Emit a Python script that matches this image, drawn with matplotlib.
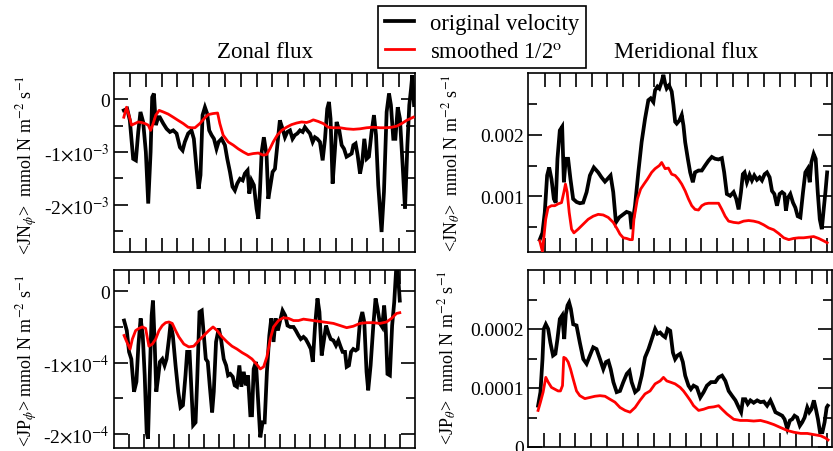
import numpy as np
import matplotlib
matplotlib.use("Agg")
import matplotlib.pyplot as plt
from matplotlib.lines import Line2D

plt.rcParams['font.family'] = ['Liberation Serif', 'DejaVu Serif']
plt.rcParams['mathtext.fontset'] = 'stix'

# ---------------- data ----------------
# Zonal flux, <JN_phi>  (units of 1e-3)
zn_orig_x = [0.62, 0.83, 1.00, 1.21, 1.38, 1.53, 1.67, 1.84, 2.01, 2.16, 2.31, 2.41, 2.52, 2.64, 2.79, 2.89,
             3.11, 3.32, 3.53, 3.74, 3.95, 4.16, 4.33, 4.47, 4.68, 4.89, 5.04, 5.21, 5.34, 5.46, 5.59, 5.74,
             5.88, 6.01, 6.16, 6.31, 6.47, 6.60, 6.79, 7.00, 7.15, 7.32, 7.48, 7.63, 7.78, 7.95, 8.12, 8.26,
             8.43, 8.54, 8.68, 8.83, 9.00, 9.11, 9.21, 9.32, 9.46, 9.63, 9.74, 9.88, 10.01, 10.16, 10.31,
             10.47, 10.64, 10.79, 10.94, 11.11, 11.27, 11.42, 11.57, 11.74, 11.91, 12.05, 12.20, 12.37,
             12.54, 12.68, 12.83, 13.00, 13.17, 13.32, 13.46, 13.57, 13.67, 13.80, 13.95, 14.05, 14.22,
             14.37, 14.52, 14.68, 14.85, 15.00, 15.11, 15.25, 15.38, 15.53, 15.67, 15.80, 15.95, 16.09,
             16.26, 16.41, 16.54, 16.68, 16.89, 17.04, 17.21, 17.36, 17.48, 17.63, 17.76, 17.91, 18.05,
             18.22, 18.37, 18.52, 18.64, 18.75, 18.83, 18.94]
zn_orig_y = [-0.21, -0.18, -0.40, -1.13, -1.16, -0.62, -0.24, -0.43, -1.00, -1.98, -1.00, 0.04, 0.11, -0.49,
             -0.34, -0.34, -0.46, -0.56, -0.62, -0.59, -0.65, -0.91, -0.97, -0.81, -0.65, -0.59, -0.75,
             -1.32, -1.70, -1.44, -0.30, -0.15, -0.27, -0.59, -0.68, -0.75, -0.94, -0.81, -0.75, -0.87,
             -1.13, -1.38, -1.66, -1.73, -1.60, -1.51, -1.54, -1.41, -1.35, -1.79, -1.54, -1.63, -2.08,
             -2.27, -1.76, -1.00, -0.72, -1.06, -1.89, -1.63, -1.38, -1.32, -0.87, -0.40, -0.56, -0.72,
             -0.62, -0.59, -0.75, -0.68, -0.65, -0.59, -0.62, -0.53, -0.59, -0.65, -0.81, -0.72, -0.75,
             -0.81, -1.16, -0.75, -0.18, -0.05, -0.37, -1.60, -0.94, -0.43, -0.59, -0.87, -0.94, -1.09,
             -1.06, -1.03, -0.87, -0.84, -1.06, -1.41, -1.19, -0.75, -1.13, -1.09, -0.62, -0.30, -0.68,
             -1.63, -2.52, -1.76, -0.24, 0.11, -0.11, -0.75, -0.75, -0.15, -0.37, -1.25, -2.08, -0.87,
             -0.11, 0.20, 0.46, -0.11]
zn_smooth_x = [0.62, 0.79, 0.94, 1.11, 1.32, 1.53, 1.74, 1.95, 2.16, 2.31, 2.47, 2.64, 2.85, 3.11, 3.42,
               3.74, 4.05, 4.37, 4.68, 4.89, 5.11, 5.42, 5.74, 5.95, 6.26, 6.54, 6.68, 6.89, 7.21, 7.53,
               7.84, 8.16, 8.47, 8.79, 9.11, 9.42, 9.63, 9.84, 10.05, 10.31, 10.58, 10.89, 11.21, 11.53,
               11.84, 12.16, 12.37, 12.58, 12.89, 13.21, 13.53, 13.84, 14.26, 14.68, 15.11, 15.53, 15.95,
               16.37, 16.79, 17.21, 17.53, 17.84, 18.16, 18.47, 18.89]
zn_smooth_y = [-0.34, -0.15, -0.30, -0.49, -0.46, -0.43, -0.44, -0.46, -0.49, -0.59, -0.46, -0.30, -0.21,
               -0.24, -0.28, -0.34, -0.40, -0.46, -0.53, -0.54, -0.54, -0.46, -0.35, -0.29, -0.27, -0.26,
               -0.46, -0.68, -0.81, -0.87, -0.94, -1.00, -1.05, -1.03, -1.02, -1.06, -1.05, -0.94, -0.81,
               -0.68, -0.59, -0.53, -0.48, -0.45, -0.43, -0.44, -0.42, -0.39, -0.42, -0.46, -0.53, -0.54,
               -0.54, -0.56, -0.57, -0.56, -0.54, -0.53, -0.54, -0.54, -0.53, -0.51, -0.46, -0.40, -0.34]

# Zonal flux, <JP_phi>  (units of 1e-4)
zp_orig_x = [0.67, 0.85, 1.00, 1.15, 1.33, 1.49, 1.62, 1.77, 1.91, 2.04, 2.17, 2.26, 2.39, 2.50, 2.59, 2.70,
             2.81, 2.92, 3.05, 3.21, 3.36, 3.49, 3.65, 3.76, 3.91, 4.09, 4.27, 4.42, 4.58, 4.75, 4.86, 5.02,
             5.15, 5.26, 5.42, 5.53, 5.68, 5.83, 5.97, 6.10, 6.23, 6.36, 6.52, 6.63, 6.78, 6.96, 7.11, 7.29,
             7.45, 7.58, 7.73, 7.89, 8.02, 8.17, 8.33, 8.46, 8.62, 8.77, 8.90, 9.06, 9.17, 9.28, 9.43, 9.57,
             9.72, 9.87, 10.01, 10.16, 10.32, 10.45, 10.60, 10.74, 10.89, 11.04, 11.20, 11.38, 11.53, 11.71,
             11.93, 12.08, 12.26, 12.41, 12.59, 12.74, 12.92, 13.08, 13.21, 13.36, 13.52, 13.65, 13.80,
             13.96, 14.09, 14.25, 14.40, 14.58, 14.75, 14.91, 15.06, 15.19, 15.35, 15.46, 15.61, 15.75,
             15.90, 16.06, 16.19, 16.34, 16.50, 16.63, 16.78, 16.89, 17.05, 17.23, 17.38, 17.51, 17.67,
             17.82, 17.95, 18.04, 18.17, 18.33, 18.48, 18.62, 18.77, 18.89, 18.99]
zp_orig_y = [-0.41, -0.55, -0.85, -0.95, -1.41, -1.27, -0.76, -0.38, -0.62, -1.18, -1.98, -2.07, -1.09, -0.34,
             -0.13, -0.71, -1.41, -1.23, -0.99, -0.95, -1.04, -0.95, -0.67, -0.45, -0.62, -1.04, -1.41,
             -1.63, -1.60, -1.18, -0.85, -0.85, -1.41, -1.88, -1.84, -1.23, -0.29, -0.27, -0.62, -0.95,
             -0.99, -1.32, -1.70, -1.41, -0.71, -0.52, -0.67, -0.95, -1.04, -1.18, -1.16, -1.20, -1.32,
             -1.34, -1.04, -1.34, -1.13, -1.32, -1.18, -1.74, -1.74, -1.09, -0.99, -1.51, -2.05, -1.84,
             -1.84, -1.13, -0.62, -0.38, -0.71, -0.38, -0.55, -0.41, -0.27, -0.34, -0.48, -0.50, -0.50,
             -0.55, -0.62, -0.67, -0.64, -0.67, -0.74, -0.81, -0.99, -0.48, -0.10, -0.29, -0.90, -0.67,
             -0.48, -0.59, -0.67, -0.69, -0.76, -0.69, -0.78, -0.85, -0.85, -1.06, -1.04, -0.85, -0.81,
             -0.83, -0.81, -0.43, -0.29, -0.43, -1.13, -1.39, -1.04, -0.48, -0.10, -0.24, -0.45, -0.50,
             -0.20, -0.43, -1.16, -1.18, -0.48, -0.15, 0.39, 0.18, -0.13]
zp_smooth_x = [0.67, 0.85, 1.07, 1.22, 1.44, 1.66, 1.88, 2.10, 2.32, 2.55, 2.77, 2.99, 3.21, 3.43, 3.65,
               3.87, 4.09, 4.31, 4.64, 4.97, 5.30, 5.64, 5.97, 6.30, 6.58, 6.85, 7.18, 7.51, 7.84, 8.17,
               8.51, 8.84, 9.17, 9.50, 9.72, 9.94, 10.16, 10.38, 10.60, 10.93, 11.26, 11.60, 11.93, 12.26,
               12.59, 12.92, 13.25, 13.58, 13.91, 14.25, 14.58, 15.02, 15.46, 15.90, 16.34, 16.78, 17.23,
               17.67, 18.11, 18.44, 18.77, 18.99]
zp_smooth_y = [-0.62, -0.71, -0.81, -0.67, -0.55, -0.52, -0.50, -0.52, -0.77, -0.74, -0.67, -0.55, -0.48,
               -0.44, -0.43, -0.45, -0.55, -0.64, -0.74, -0.78, -0.77, -0.69, -0.62, -0.55, -0.50, -0.55,
               -0.64, -0.71, -0.77, -0.81, -0.86, -0.90, -0.95, -1.03, -1.09, -1.06, -0.92, -0.67, -0.50,
               -0.41, -0.37, -0.38, -0.41, -0.41, -0.39, -0.40, -0.41, -0.42, -0.43, -0.44, -0.45, -0.48,
               -0.51, -0.49, -0.45, -0.44, -0.44, -0.45, -0.43, -0.38, -0.31, -0.30]

# Meridional flux, <JN_theta>  (units of 1e-3)
mn_orig_x = [0.68, 0.85, 1.00, 1.15, 1.28, 1.43, 1.58, 1.70, 1.81, 1.96, 2.11, 2.22, 2.34, 2.49, 2.64, 2.81,
             3.03, 3.24, 3.45, 3.67, 3.88, 4.13, 4.41, 4.62, 4.84, 4.99, 5.20, 5.37, 5.54, 5.75, 6.01, 6.22,
             6.44, 6.54, 6.76, 6.97, 7.18, 7.40, 7.61, 7.76, 7.93, 8.04, 8.19, 8.31, 8.46, 8.57, 8.68, 8.78,
             8.93, 9.10, 9.21, 9.32, 9.42, 9.59, 9.74, 9.85, 9.96, 10.13, 10.28, 10.45, 10.59, 10.81, 11.02,
             11.23, 11.45, 11.66, 11.87, 12.09, 12.30, 12.45, 12.62, 12.83, 13.05, 13.22, 13.37, 13.52,
             13.64, 13.75, 13.90, 14.07, 14.22, 14.37, 14.54, 14.71, 14.86, 15.03, 15.18, 15.35, 15.50,
             15.65, 15.82, 15.99, 16.14, 16.29, 16.39, 16.52, 16.67, 16.84, 16.99, 17.14, 17.31, 17.48,
             17.63, 17.78, 17.91, 18.01, 18.16, 18.29, 18.42, 18.55, 18.68, 18.80, 18.91, 19.02]
mn_orig_y = [0.30, 0.41, 0.74, 1.34, 1.47, 1.28, 0.96, 0.90, 1.61, 2.07, 2.13, 1.23, 1.61, 1.61, 1.28, 0.96,
             0.91, 0.89, 0.90, 1.07, 1.34, 1.47, 1.39, 1.31, 1.24, 1.28, 1.34, 1.07, 0.58, 0.66, 0.71, 0.75,
             0.73, 0.47, 0.85, 1.39, 1.88, 2.26, 2.56, 2.59, 2.53, 2.72, 2.78, 2.75, 2.86, 2.97, 2.83, 2.75,
             2.80, 2.70, 2.48, 2.21, 2.18, 2.23, 2.32, 2.15, 1.88, 1.61, 1.39, 1.23, 1.39, 1.42, 1.42, 1.50,
             1.58, 1.64, 1.61, 1.60, 1.62, 1.39, 1.04, 1.01, 1.07, 0.96, 0.79, 1.07, 1.36, 1.39, 1.23, 1.35,
             1.26, 1.34, 1.27, 1.31, 1.26, 1.36, 1.39, 1.31, 1.09, 1.04, 0.85, 1.04, 1.07, 1.04, 0.77, 0.98,
             1.04, 0.90, 0.82, 0.68, 0.66, 1.07, 1.39, 1.45, 1.23, 1.55, 1.69, 1.61, 1.07, 0.63, 0.47, 0.79,
             1.07, 1.39]
mn_smooth_x = [0.68, 0.85, 1.06, 1.21, 1.43, 1.64, 1.85, 2.07, 2.22, 2.32, 2.43, 2.56, 2.71, 2.86, 3.13,
               3.45, 3.77, 4.09, 4.41, 4.73, 5.05, 5.37, 5.63, 5.80, 6.01, 6.22, 6.44, 6.59, 6.69, 6.91,
               7.12, 7.33, 7.55, 7.82, 8.04, 8.31, 8.46, 8.68, 8.89, 9.10, 9.32, 9.53, 9.74, 9.96, 10.17,
               10.38, 10.59, 10.81, 11.02, 11.23, 11.45, 11.77, 12.09, 12.30, 12.51, 12.73, 13.05, 13.37,
               13.69, 14.01, 14.33, 14.65, 14.97, 15.29, 15.61, 15.93, 16.25, 16.57, 16.88, 17.20, 17.52,
               17.84, 18.16, 18.48, 18.80, 19.02]
mn_smooth_y = [0.28, 0.11, 0.63, 0.82, 0.85, 0.85, 0.88, 0.90, 1.07, 1.20, 1.07, 0.74, 0.47, 0.41, 0.47,
               0.55, 0.63, 0.68, 0.71, 0.70, 0.66, 0.58, 0.47, 0.39, 0.33, 0.32, 0.30, 0.30, 0.63, 0.96,
               1.12, 1.20, 1.28, 1.39, 1.45, 1.50, 1.55, 1.45, 1.46, 1.36, 1.34, 1.28, 1.20, 1.09, 0.96,
               0.85, 0.79, 0.78, 0.85, 0.88, 0.89, 0.89, 0.89, 0.79, 0.68, 0.60, 0.58, 0.57, 0.60, 0.61,
               0.60, 0.58, 0.54, 0.49, 0.46, 0.40, 0.33, 0.30, 0.32, 0.33, 0.33, 0.34, 0.35, 0.32, 0.28,
               0.25]

# Meridional flux, <JP_theta>  (units of 1e-4)
mp_orig_x = [0.64, 0.79, 0.92, 1.00, 1.13, 1.28, 1.42, 1.59, 1.74, 1.87, 2.02, 2.17, 2.30, 2.40, 2.51, 2.61,
             2.72, 2.87, 3.08, 3.29, 3.51, 3.72, 3.93, 4.14, 4.35, 4.57, 4.78, 4.95, 5.10, 5.25, 5.42, 5.63,
             5.84, 6.05, 6.27, 6.44, 6.58, 6.80, 7.01, 7.22, 7.43, 7.65, 7.86, 8.07, 8.22, 8.39, 8.56, 8.71,
             8.86, 9.03, 9.20, 9.34, 9.49, 9.66, 9.83, 9.98, 10.19, 10.34, 10.51, 10.72, 10.94, 11.15,
             11.36, 11.62, 11.89, 12.10, 12.32, 12.53, 12.74, 12.95, 13.17, 13.38, 13.53, 13.65, 13.80,
             13.95, 14.12, 14.33, 14.55, 14.76, 14.97, 15.18, 15.39, 15.54, 15.71, 15.93, 16.14, 16.29,
             16.46, 16.63, 16.77, 16.92, 17.09, 17.26, 17.41, 17.56, 17.73, 17.86, 17.99, 18.15, 18.28,
             18.41, 18.54, 18.69, 18.83, 18.96, 19.03]
mp_orig_y = [0.70, 0.93, 1.49, 2.00, 2.08, 2.00, 1.77, 1.55, 1.58, 1.83, 2.17, 2.23, 1.83, 2.25, 2.40, 2.45,
             2.34, 2.08, 2.06, 1.77, 1.49, 1.41, 1.55, 1.69, 1.66, 1.49, 1.32, 1.44, 1.46, 1.32, 1.10, 0.93,
             0.95, 1.10, 1.24, 1.29, 1.10, 0.93, 0.98, 1.21, 1.52, 1.66, 1.83, 2.00, 1.92, 1.94, 1.89, 1.86,
             2.00, 1.97, 1.60, 1.49, 1.55, 1.58, 1.44, 1.21, 1.04, 0.98, 1.04, 1.01, 0.84, 0.93, 1.04, 1.10,
             1.10, 1.18, 1.21, 1.12, 0.95, 0.87, 0.79, 0.67, 0.59, 0.81, 0.81, 0.73, 0.79, 0.75, 0.79, 0.76,
             0.77, 0.70, 0.79, 0.70, 0.59, 0.56, 0.53, 0.47, 0.31, 0.45, 0.47, 0.53, 0.50, 0.36, 0.42, 0.50,
             0.67, 0.59, 0.64, 0.79, 0.64, 0.47, 0.25, 0.25, 0.42, 0.67, 0.70]
mp_smooth_x = [0.64, 0.79, 0.96, 1.13, 1.28, 1.49, 1.70, 1.91, 2.06, 2.19, 2.27, 2.40, 2.55, 2.70, 2.87,
               3.08, 3.29, 3.61, 3.93, 4.25, 4.57, 4.89, 5.20, 5.52, 5.84, 6.16, 6.48, 6.80, 7.11, 7.43,
               7.75, 8.07, 8.39, 8.60, 8.81, 9.03, 9.34, 9.66, 9.87, 10.09, 10.30, 10.51, 10.83, 11.15,
               11.47, 11.79, 12.10, 12.32, 12.63, 13.06, 13.48, 13.91, 14.33, 14.76, 15.18, 15.61, 16.03,
               16.46, 16.88, 17.31, 17.73, 18.15, 18.58, 18.90, 19.05]
mp_smooth_y = [0.62, 0.76, 0.93, 1.18, 1.10, 1.01, 0.98, 0.95, 0.95, 1.04, 1.52, 1.50, 1.44, 1.32, 1.15,
               0.95, 0.87, 0.82, 0.84, 0.86, 0.87, 0.86, 0.81, 0.76, 0.67, 0.62, 0.59, 0.67, 0.79, 0.90,
               0.95, 1.07, 1.12, 1.18, 1.12, 1.10, 1.07, 1.01, 0.95, 0.87, 0.79, 0.70, 0.62, 0.64, 0.67,
               0.68, 0.70, 0.64, 0.56, 0.47, 0.45, 0.45, 0.44, 0.45, 0.42, 0.38, 0.33, 0.28, 0.25, 0.23,
               0.23, 0.21, 0.19, 0.15, 0.12]

titles = ["Zonal flux", "Meridional flux"]
series_labels = ["original velocity", r"smoothed 1/2$^{\mathrm{o}}$"]
ylabels = [r"<JN$_{\phi}$>  mmol N m$^{-2}$ s$^{-1}$",
           r"<JP$_{\phi}$> mmol N m$^{-2}$ s$^{-1}$",
           r"<JN$_{\theta}$>  mmol N m$^{-2}$ s$^{-1}$",
           r"<JP$_{\theta}$>  mmol N m$^{-2}$ s$^{-1}$"]

# ---------------- figure ----------------
W, H = 833, 452
fig = plt.figure(figsize=(W / 100, H / 100), dpi=100)


def rect(l, t, r, b):
    return [l / W, 1 - b / H, (r - l) / W, (b - t) / H]


ax_tl = fig.add_axes(rect(114, 74, 415, 253))
ax_bl = fig.add_axes(rect(114, 271, 415, 449))
ax_tr = fig.add_axes(rect(528, 74, 832, 253))
ax_br = fig.add_axes(rect(528, 271, 832, 448))

BLACK_LW = 2.7
RED_LW = 2.0

panels = [
    (ax_tl, zn_orig_x, zn_orig_y, zn_smooth_x, zn_smooth_y, 1e-3),
    (ax_bl, zp_orig_x, zp_orig_y, zp_smooth_x, zp_smooth_y, 1e-4),
    (ax_tr, mn_orig_x, mn_orig_y, mn_smooth_x, mn_smooth_y, 1e-3),
    (ax_br, mp_orig_x, mp_orig_y, mp_smooth_x, mp_smooth_y, 1e-4),
]
for ax, ox, oy, sx, sy, sc in panels:
    ax.plot(ox, np.array(oy) * sc, color='black', lw=BLACK_LW, zorder=2, solid_joinstyle='miter')
    ax.plot(sx, np.array(sy) * sc, color='#ff0000', lw=RED_LW, zorder=3)
    for s in ax.spines.values():
        s.set_linewidth(1.2)
    ax.tick_params(axis='both', which='both', direction='in', top=True, right=True,
                   width=1.2, labelsize=14, pad=3)
    ax.tick_params(axis='both', which='major', length=10)
    ax.tick_params(axis='y', which='minor', length=6.5)
    ax.tick_params(axis='x', labelbottom=False)

# limits and ticks
ax_tl.set_xlim(0, 19)
ax_tl.set_xticks(np.arange(1, 19))
ax_tl.set_ylim(-2.9e-3, 0.5e-3)
ax_tl.set_yticks([0, -1e-3, -2e-3])
ax_tl.set_yticklabels(["0", r"-1$\times$10$^{-3}$", r"-2$\times$10$^{-3}$"])
ax_tl.set_yticks([-0.5e-3, -1.5e-3, -2.5e-3], minor=True)

ax_bl.set_xlim(0, 20)
ax_bl.set_xticks(np.arange(1, 20))
ax_bl.set_ylim(-2.2e-4, 0.3e-4)
ax_bl.set_yticks([0, -1e-4, -2e-4])
ax_bl.set_yticklabels(["0", r"-1$\times$10$^{-4}$", r"-2$\times$10$^{-4}$"])
ax_bl.set_yticks([-0.5e-4, -1.5e-4], minor=True)

ax_tr.set_xlim(-0.07, 19.33)
ax_tr.set_xticks(np.arange(1, 20))
ax_tr.set_ylim(1e-4, 3e-3)
ax_tr.set_yticks([1e-3, 2e-3])
ax_tr.set_yticklabels(["0.001", "0.002"])
ax_tr.set_yticks([0.5e-3, 1.5e-3, 2.5e-3], minor=True)

ax_br.set_xlim(0, 19.3)
ax_br.set_xticks(np.arange(1, 20))
ax_br.set_ylim(0, 3e-4)
ax_br.set_yticks([0, 1e-4, 2e-4])
ax_br.set_yticklabels(["0", "0.0001", "0.0002"])
ax_br.set_yticks([0.5e-4, 1.5e-4, 2.5e-4], minor=True)

# titles
fig.text(265 / W, 1 - 52 / H, titles[0], ha='center', va='center', fontsize=16.5)
fig.text(686 / W, 1 - 52 / H, titles[1], ha='center', va='center', fontsize=16.5)

# y labels
LBL_FS = 13
fig.text(27 / W, 1 - 165 / H, ylabels[0], rotation=90, ha='center', va='center', fontsize=LBL_FS)
fig.text(27 / W, 1 - 361 / H, ylabels[1], rotation=90, ha='center', va='center', fontsize=LBL_FS)
fig.text(452 / W, 1 - 163 / H, ylabels[2], rotation=90, ha='center', va='center', fontsize=LBL_FS)
fig.text(448 / W, 1 - 358 / H, ylabels[3], rotation=90, ha='center', va='center', fontsize=LBL_FS)

# legend
handles = [Line2D([], [], color='black', lw=BLACK_LW), Line2D([], [], color='#ff0000', lw=RED_LW)]
leg = fig.legend(handles, series_labels, loc='upper left', bbox_to_anchor=(378 / W, 1 - 7 / H),
                 borderaxespad=0, fontsize=16.3, frameon=True, fancybox=False, edgecolor='black',
                 framealpha=1, handlelength=1.3, handletextpad=0.7, labelspacing=0.3, borderpad=0.3)
leg.get_frame().set_linewidth(1.2)

fig.savefig('out.png', dpi=100)
